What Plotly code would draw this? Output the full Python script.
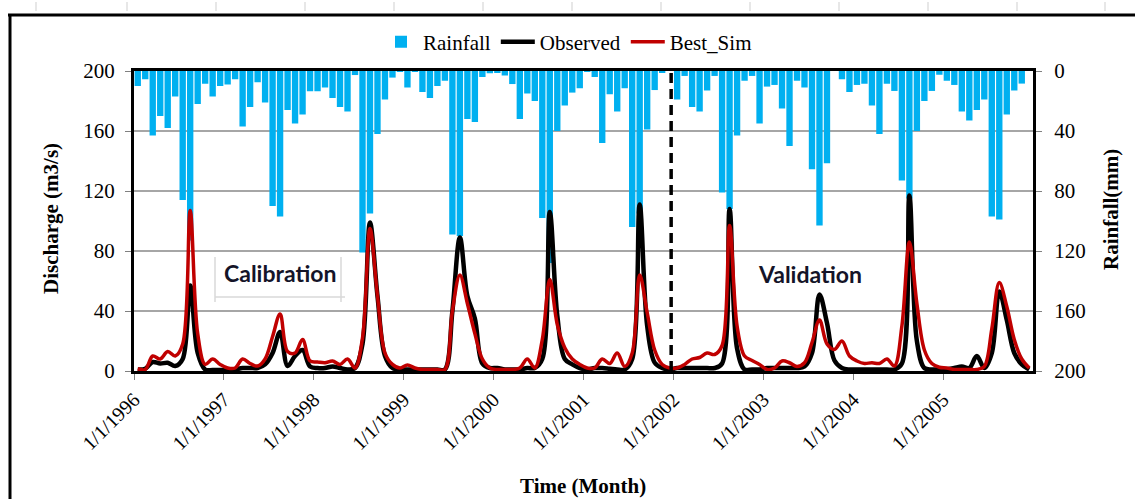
import numpy as np
import pandas as pd
import plotly.graph_objects as go

# Monthly series, Jan 1996 - Dec 2005
months = pd.date_range("1996-01-01", periods=120, freq="MS")

rainfall_mm = [
    10, 5.5, 43, 30, 38, 17, 86, 113, 22, 8.5, 17, 10,        # 1996
    9, 5.5, 37, 24, 7.5, 21, 90, 97, 26, 35, 29, 13.5,        # 1997
    13.5, 11, 18, 24, 27, 2.7, 121, 95, 42, 19, 4.4, 0.5,     # 1998
    11, 0.5, 14, 18, 10, 6.5, 109, 110, 32, 34, 4, 1.5,       # 1999
    1, 3, 8.7, 32, 15, 20, 98, 128, 40, 23, 14.4, 11.5,       # 2000
    0.3, 4, 48, 15.5, 27, 11.5, 104, 95, 39, 12.7, 1, 0,      # 2001
    19, 3.3, 24, 27, 13, 3.3, 81, 92, 43, 6.5, 3.3, 35,       # 2002
    10.4, 9.3, 25, 50, 6.5, 11, 65.5, 103, 61.5, 0, 5.5, 14,  # 2003
    9.3, 8.5, 23, 42, 8.5, 13.3, 73, 85, 40, 20, 13.3, 2.5,   # 2004
    6.5, 9.3, 27, 33, 26, 19, 97, 99, 29, 13, 8.4, 0,         # 2005
]

observed = [
    1, 1.5, 6, 5, 5.5, 3.3, 8, 57, 12, 1, 0.7, 0.7,
    0.7, 1, 2, 2, 2, 4.4, 12, 26, 3.3, 10, 14, 3,
    2, 2, 3, 2, 1, 2, 18, 99, 50, 10, 2, 1,
    1, 1, 1, 1, 1, 1, 40, 89, 50, 35, 5, 2,
    2, 1, 1, 1, 2, 2, 8, 106, 37, 8, 4.4, 2,
    1, 2, 2, 1.5, 1, 1, 8, 111, 30, 5.6, 2, 1,
    2, 2, 2, 2, 2, 2, 5, 108, 15, 1, 1, 1,
    2, 2, 2, 2, 2, 3, 12, 51, 32, 7, 2, 1,
    1, 1, 1, 1, 1, 1, 5, 117, 20, 2, 1, 1,
    1, 2, 3, 2, 10, 2, 12, 53, 34, 12, 4.4, 1,
]

best_sim = [
    1.5, 1, 10, 8, 13, 10, 18, 107, 25, 4.4, 8, 4.4,
    2, 2, 8, 5, 3.3, 8, 23, 38, 13, 12, 21, 6.7,
    6, 5.5, 6.7, 4.4, 8, 2, 22, 95, 50, 12, 4.4, 2,
    4, 2, 1, 1, 1, 1, 40, 64, 45, 25, 8, 2,
    1, 1, 1, 2, 8, 2, 21, 61, 31, 15.5, 8, 4.4,
    2, 2, 8, 5, 12, 3, 12, 64, 39, 14, 4.4, 2,
    2, 4.4, 8, 9, 12, 11, 17, 97, 30, 10, 7, 4.4,
    1, 2, 6.7, 5.5, 3, 5.5, 19, 34, 18, 14.4, 20, 10,
    6.7, 5, 5.5, 5, 8, 3.3, 30, 86, 45, 14, 5, 2.5,
    2, 1, 1, 1, 1, 3, 28, 59, 43, 21, 8, 2,
]

year_labels = [f"1/1/{y}" for y in range(1996, 2006)]
discharge_ticks = [0, 40, 80, 120, 160, 200]
rain_ticks = [0, 40, 80, 120, 160, 200]

x = np.arange(len(months))
hover_dates = [d.strftime("%b %Y") for d in months]
jan_idx = [i for i, d in enumerate(months) if d.month == 1]
split_idx = list(months).index(pd.Timestamp("2002-01-01"))

SERIF = "Liberation Serif"

fig = go.Figure()

fig.add_trace(go.Bar(
    x=x, y=rainfall_mm, name="Rainfall", yaxis="y",
    marker=dict(color="#00B0F0", line=dict(width=0)),
    customdata=hover_dates,
    hovertemplate="%{customdata}<br>Rainfall: %{y} mm<extra></extra>",
))
fig.add_trace(go.Scatter(
    x=x, y=observed, name="Observed", yaxis="y2", mode="lines",
    line=dict(color="black", width=4.5, shape="spline", smoothing=1.0),
    customdata=hover_dates,
    hovertemplate="%{customdata}<br>Observed: %{y} m3/s<extra></extra>",
))
fig.add_trace(go.Scatter(
    x=x, y=best_sim, name="Best_Sim", yaxis="y2", mode="lines",
    line=dict(color="#C00000", width=3.5, shape="spline", smoothing=1.0),
    customdata=hover_dates,
    hovertemplate="%{customdata}<br>Best_Sim: %{y} m3/s<extra></extra>",
))

# pixel helpers for decorations relative to the plotting area
L, R, T, B = 134, 1033, 71, 371
def px_x(p):
    return (p - L) / (R - L)
def px_y(p):
    return (B - p) / (B - T)

shapes = [
    # calibration / validation split
    dict(type="line", xref="x", yref="paper", x0=split_idx - 0.8, x1=split_idx - 0.8,
         y0=0, y1=1, line=dict(color="black", width=3.5, dash="10px,6px")),
    # outer frame
    dict(type="line", xref="paper", yref="paper", x0=px_x(8), x1=px_x(1140),
         y0=px_y(15), y1=px_y(15), line=dict(color="black", width=3)),
    dict(type="line", xref="paper", yref="paper", x0=px_x(10), x1=px_x(10),
         y0=px_y(15), y1=px_y(505), line=dict(color="black", width=3)),
    # bracket around the calibration label
    dict(type="line", xref="paper", yref="paper", x0=px_x(215), x1=px_x(215),
         y0=px_y(257), y1=px_y(302), line=dict(color="#d9d9d9", width=1.5)),
    dict(type="line", xref="paper", yref="paper", x0=px_x(215), x1=px_x(345),
         y0=px_y(297), y1=px_y(297), line=dict(color="#d9d9d9", width=1.5)),
    dict(type="line", xref="paper", yref="paper", x0=px_x(341), x1=px_x(341),
         y0=px_y(257), y1=px_y(302), line=dict(color="#d9d9d9", width=1.5)),
]
for p in [36, 127, 216, 305, 394, 483, 572, 661, 750, 839, 928, 1017, 1105]:
    shapes.append(dict(type="line", xref="paper", yref="paper", x0=px_x(p), x1=px_x(p),
                       y0=px_y(2), y1=px_y(11), line=dict(color="#cfcfcf", width=1)))

annotations = [
    dict(text="<b>Calibration</b>", xref="paper", yref="paper", x=px_x(280), y=px_y(273),
         showarrow=False, font=dict(family="Lato", size=23, color="#141428"),
         xanchor="center", yanchor="middle"),
    dict(text="<b>Validation</b>", xref="paper", yref="paper", x=px_x(810), y=px_y(274),
         showarrow=False, font=dict(family="Lato", size=23, color="#141428"),
         xanchor="center", yanchor="middle"),
    dict(text="<b>Discharge (m3/s)</b>", xref="paper", yref="paper", x=px_x(51), y=px_y(219),
         textangle=-90, showarrow=False, font=dict(family=SERIF, size=21, color="black"),
         xanchor="center", yanchor="middle"),
    dict(text="<b>Rainfall(mm)</b>", xref="paper", yref="paper", x=px_x(1111), y=px_y(210),
         textangle=-90, showarrow=False, font=dict(family=SERIF, size=21, color="black"),
         xanchor="center", yanchor="middle"),
    dict(text="<b>Time (Month)</b>", xref="paper", yref="paper", x=px_x(583), y=px_y(486),
         showarrow=False, font=dict(family=SERIF, size=21, color="black"),
         xanchor="center", yanchor="middle"),
]

fig.update_layout(
    width=1135, height=499,
    margin=dict(l=L, r=1135 - R, t=T, b=499 - B),
    paper_bgcolor="white", plot_bgcolor="white",
    bargap=0.15,
    showlegend=True,
    legend=dict(orientation="h", x=px_x(568), y=px_y(42), xanchor="center", yanchor="middle",
                font=dict(family=SERIF, size=21, color="black"), bgcolor="rgba(0,0,0,0)",
                itemwidth=34, traceorder="normal"),
    xaxis=dict(
        range=[-0.5, len(months) - 0.5],
        tickvals=[i - 0.5 for i in jan_idx], ticktext=year_labels,
        tickangle=-45, ticks="outside", ticklen=6, tickcolor="#808080",
        tickfont=dict(family=SERIF, size=20, color="black"),
        showline=True, linecolor="black", linewidth=3, mirror=True,
        showgrid=False, zeroline=False,
    ),
    yaxis=dict(
        side="right", range=[200, 0], tickvals=rain_ticks,
        ticks="outside", ticklen=6, tickcolor="#808080", ticklabelstandoff=8,
        tickfont=dict(family=SERIF, size=21, color="black"),
        showline=True, linecolor="black", linewidth=3,
        showgrid=True, gridcolor="#a6a6a6", gridwidth=1.5, zeroline=False,
    ),
    yaxis2=dict(
        side="left", overlaying="y", range=[0, 200], tickvals=discharge_ticks,
        ticks="outside", ticklen=6, tickcolor="#808080", ticklabelstandoff=6,
        tickfont=dict(family=SERIF, size=21, color="black"),
        showline=True, linecolor="black", linewidth=3,
        showgrid=False, zeroline=False,
    ),
    shapes=shapes,
    annotations=annotations,
)

fig.write_html("out.html")
